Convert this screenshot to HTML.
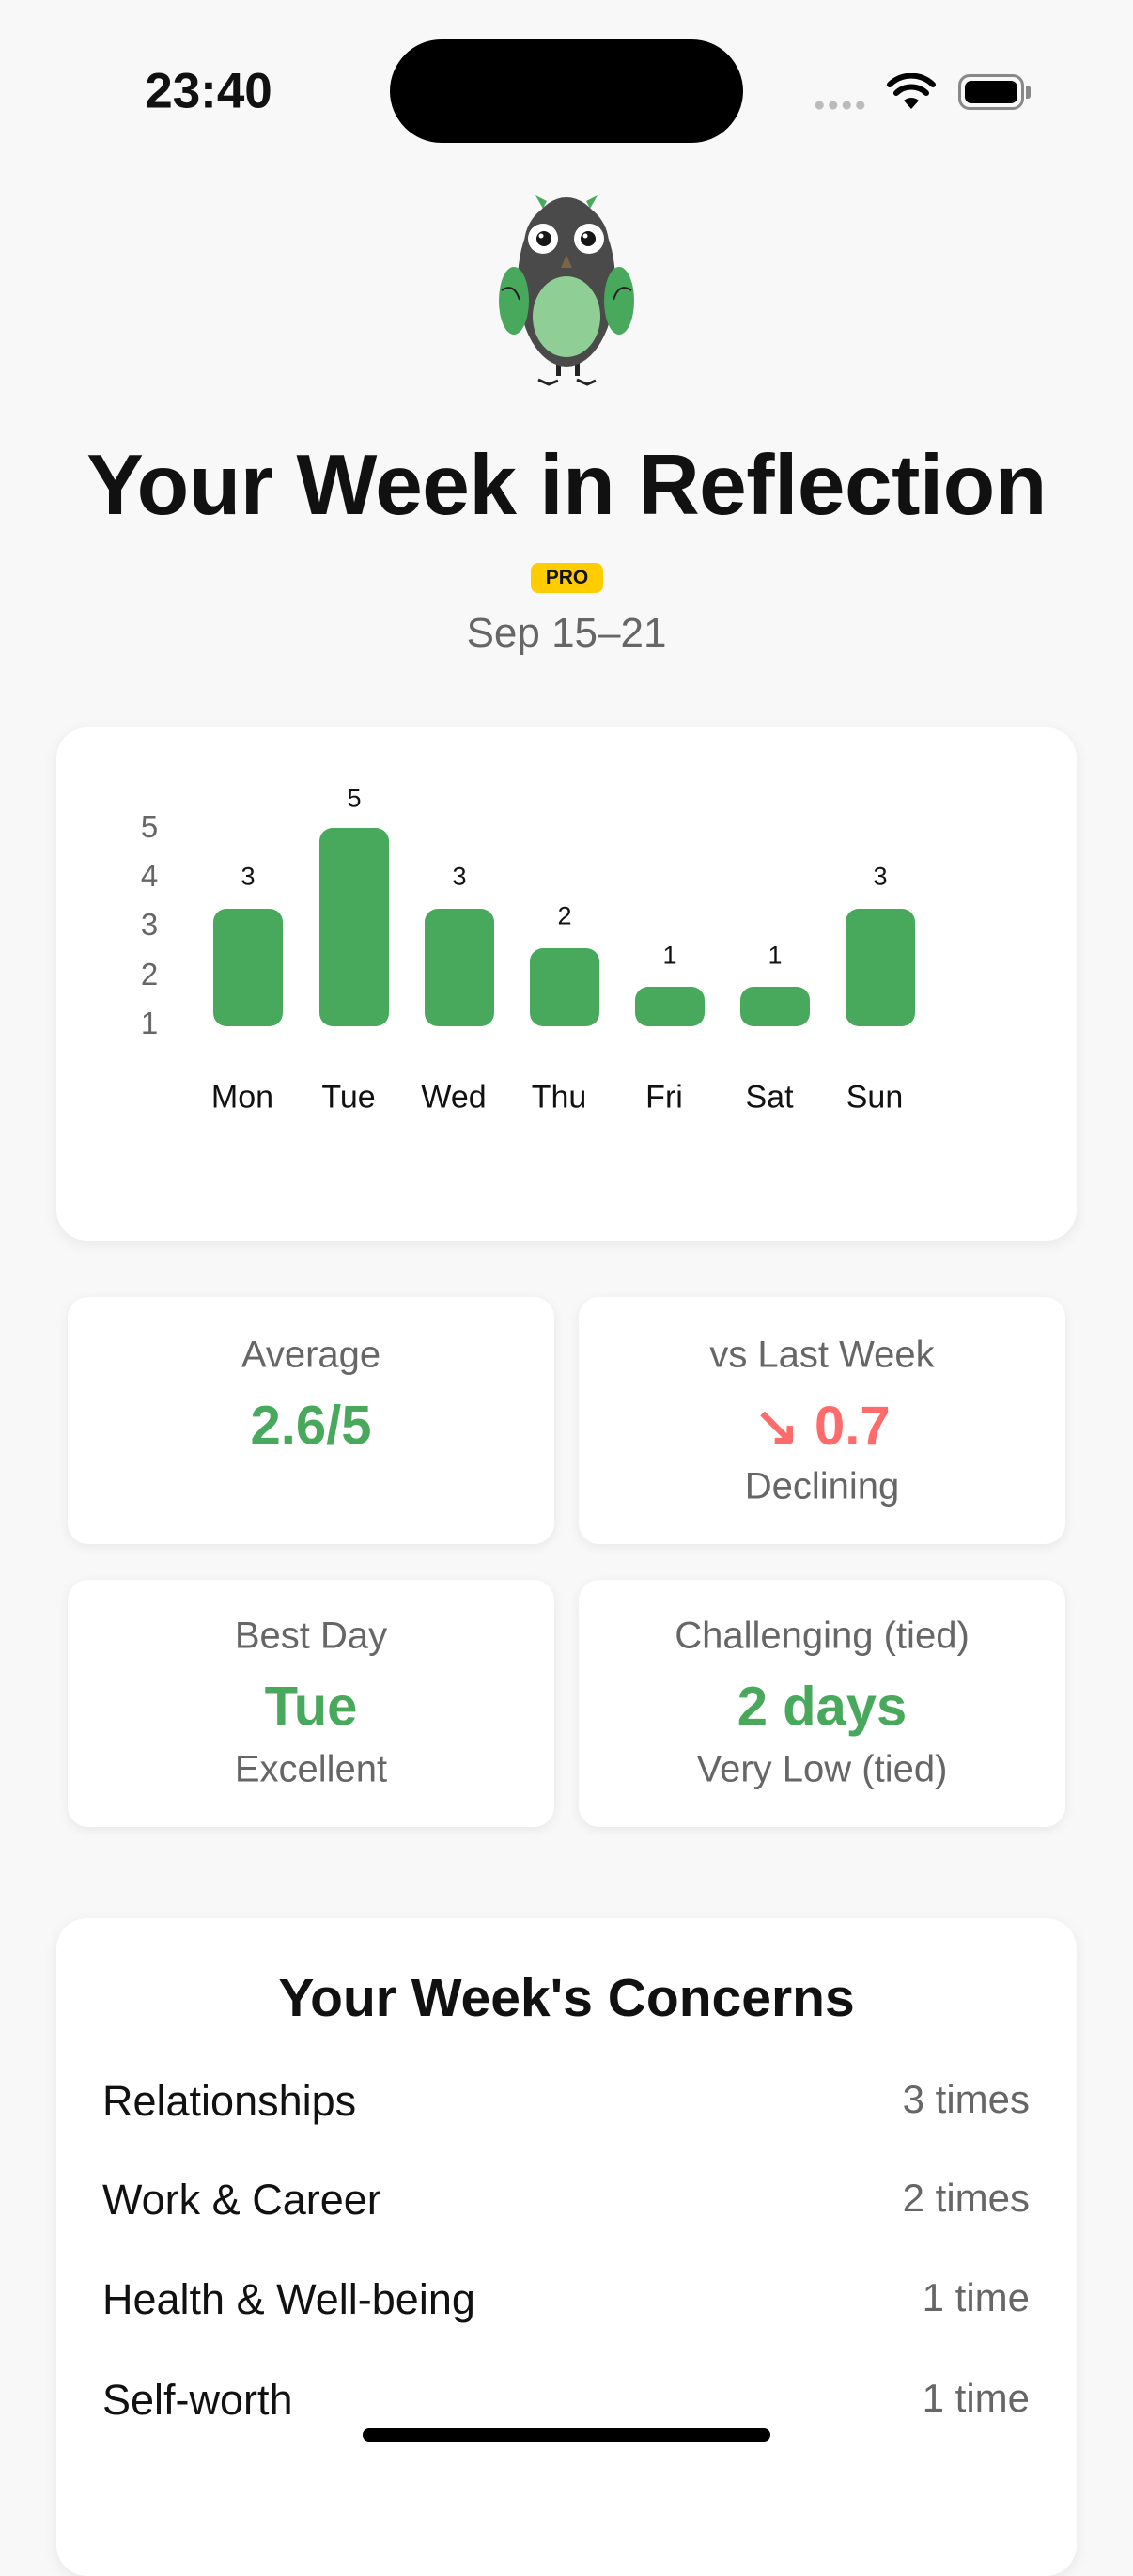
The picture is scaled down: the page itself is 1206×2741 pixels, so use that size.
<!DOCTYPE html>
<html><head><meta charset="utf-8"><style>
*{margin:0;padding:0;box-sizing:border-box}
body{width:1206px;height:2622px;background:#f8f8f8;font-family:"Liberation Sans",sans-serif;position:relative;overflow:hidden;color:#111}
.a{position:absolute}
.c{position:absolute;transform:translate(-50%,-50%);white-space:nowrap}
.card{position:absolute;background:#fff;border-radius:33px;box-shadow:0 4px 16px rgba(0,0,0,0.07)}
.sc{position:absolute;background:#fff;border-radius:22px;box-shadow:0 3px 12px rgba(0,0,0,0.07)}
.bar{position:absolute;background:#48a95c;border-radius:14px;width:74px;bottom:1530px}
.lab{font-size:40px;color:#666}
.big{font-size:58px;font-weight:bold;color:#48a95c}
.row{position:absolute;left:109px;width:987px;font-size:45px;display:flex;justify-content:space-between}
.row span:last-child{color:#666;font-size:42px}
</style></head><body>
<div class="c" style="left:222px;top:97px;font-size:53px;font-weight:bold">23:40</div>
<div class="a" style="left:415px;top:42px;width:376px;height:110px;background:#000;border-radius:55px"></div>
<div class="a" style="left:865px;top:107px;width:58px;height:10px;background:radial-gradient(circle,#bbb 4px,transparent 5px) 0 0/14.5px 10px repeat-x"></div>
<svg class="a" style="left:944px;top:78px" width="52" height="40" viewBox="0 0 52 40"><path d="M26 38 L18 29 A12 12 0 0 1 34 29 Z" fill="#000"/><path d="M10 21 A23 23 0 0 1 42 21" stroke="#000" stroke-width="6" fill="none" stroke-linecap="round"/><path d="M3 12 A33 33 0 0 1 49 12" stroke="#000" stroke-width="6" fill="none" stroke-linecap="round"/></svg>
<div class="a" style="left:1020px;top:79px;width:70px;height:38px;border:3px solid #888;border-radius:12px;padding:4px"><div style="width:100%;height:100%;background:#000;border-radius:7px"></div></div>
<div class="a" style="left:1092px;top:91px;width:5px;height:14px;background:#888;border-radius:0 3px 3px 0"></div>

<svg class="a" style="left:520px;top:200px" width="170" height="220" viewBox="520 200 170 220">
<polygon points="570,208 582,214 578,222" fill="#48a95c"/><polygon points="636,208 624,214 628,222" fill="#48a95c"/>
<rect x="592" y="375" width="5" height="25" fill="#222"/><rect x="612" y="375" width="5" height="25" fill="#222"/>
<path d="M573 404 L584 409 L594 405 M614 404 L625 409 L634 405" stroke="#222" stroke-width="3" fill="none"/>
<ellipse cx="603" cy="300" rx="52" ry="90" fill="#4a4a4a"/>
<ellipse cx="603" cy="260" rx="45" ry="46" fill="#4a4a4a"/>
<ellipse cx="603" cy="337" rx="36" ry="43" fill="#8fcf96"/>
<ellipse cx="547" cy="320" rx="16" ry="36" fill="#48a95c"/><ellipse cx="659" cy="320" rx="16" ry="36" fill="#48a95c"/>
<path d="M534 309 Q547 300 553 319 M672 309 Q659 300 653 319" stroke="#222" stroke-width="2" fill="none"/>
<circle cx="578" cy="254" r="16" fill="#fff"/><circle cx="627" cy="254" r="16" fill="#fff"/>
<circle cx="579" cy="254" r="8" fill="#161616"/><circle cx="626" cy="254" r="8" fill="#161616"/>
<circle cx="576" cy="251" r="2.5" fill="#fff"/><circle cx="623" cy="251" r="2.5" fill="#fff"/>
<polygon points="603,271 597,285 609,285" fill="#7d6446"/>
</svg>

<div class="c" style="left:603px;top:517px;font-size:91px;font-weight:bold;letter-spacing:-0.5px">Your Week in Reflection</div>
<div class="a" style="left:565px;top:599px;width:77px;height:32px;background:#ffcc00;border-radius:8px;font-size:21px;font-weight:bold;text-align:center;line-height:32px">PRO</div>
<div class="c" style="left:603px;top:674px;font-size:44px;color:#666">Sep 15–21</div>

<div class="card" style="left:60px;top:774px;width:1086px;height:546px"></div>
<div class="c" style="left:159px;top:880px;font-size:33px;color:#666">5</div>
<div class="c" style="left:159px;top:932px;font-size:33px;color:#666">4</div>
<div class="c" style="left:159px;top:984px;font-size:33px;color:#666">3</div>
<div class="c" style="left:159px;top:1037px;font-size:33px;color:#666">2</div>
<div class="c" style="left:159px;top:1089px;font-size:33px;color:#666">1</div>
<div class="bar" style="left:227px;top:967px;height:125px"></div>
<div class="bar" style="left:340px;top:881px;height:211px"></div>
<div class="bar" style="left:452px;top:967px;height:125px"></div>
<div class="bar" style="left:564px;top:1009px;height:83px"></div>
<div class="bar" style="left:676px;top:1050px;height:42px"></div>
<div class="bar" style="left:788px;top:1050px;height:42px"></div>
<div class="bar" style="left:900px;top:967px;height:125px"></div>
<div class="c" style="left:264px;top:933px;font-size:27px">3</div>
<div class="c" style="left:377px;top:850px;font-size:27px">5</div>
<div class="c" style="left:489px;top:933px;font-size:27px">3</div>
<div class="c" style="left:601px;top:975px;font-size:27px">2</div>
<div class="c" style="left:713px;top:1017px;font-size:27px">1</div>
<div class="c" style="left:825px;top:1017px;font-size:27px">1</div>
<div class="c" style="left:937px;top:933px;font-size:27px">3</div>
<div class="c" style="left:258px;top:1168px;font-size:34px">Mon</div>
<div class="c" style="left:371px;top:1168px;font-size:34px">Tue</div>
<div class="c" style="left:483px;top:1168px;font-size:34px">Wed</div>
<div class="c" style="left:595px;top:1168px;font-size:34px">Thu</div>
<div class="c" style="left:707px;top:1168px;font-size:34px">Fri</div>
<div class="c" style="left:819px;top:1168px;font-size:34px">Sat</div>
<div class="c" style="left:931px;top:1168px;font-size:34px">Sun</div>

<div class="sc" style="left:72px;top:1380px;width:518px;height:263px"></div>
<div class="sc" style="left:616px;top:1380px;width:518px;height:263px"></div>
<div class="sc" style="left:72px;top:1681px;width:518px;height:263px"></div>
<div class="sc" style="left:616px;top:1681px;width:518px;height:263px"></div>
<div class="c lab" style="left:331px;top:1442px">Average</div>
<div class="c big" style="left:331px;top:1517px">2.6/5</div>
<div class="c lab" style="left:875px;top:1442px">vs Last Week</div>
<div class="c big" style="left:875px;top:1517px;color:#ff6b6b">↘ 0.7</div>
<div class="c lab" style="left:875px;top:1582px">Declining</div>
<div class="c lab" style="left:331px;top:1741px">Best Day</div>
<div class="c big" style="left:331px;top:1816px">Tue</div>
<div class="c lab" style="left:331px;top:1883px">Excellent</div>
<div class="c lab" style="left:875px;top:1741px">Challenging (tied)</div>
<div class="c big" style="left:875px;top:1816px">2 days</div>
<div class="c lab" style="left:875px;top:1883px">Very Low (tied)</div>

<div class="card" style="left:60px;top:2041px;width:1086px;height:700px"></div>
<div class="c" style="left:603px;top:2126px;font-size:57px;font-weight:bold">Your Week's Concerns</div>
<div class="row" style="top:2210px"><span>Relationships</span><span>3 times</span></div>
<div class="row" style="top:2315px"><span>Work &amp; Career</span><span>2 times</span></div>
<div class="row" style="top:2421px"><span>Health &amp; Well-being</span><span>1 time</span></div>
<div class="row" style="top:2528px"><span>Self-worth</span><span>1 time</span></div>
<div class="a" style="left:386px;top:2584px;width:434px;height:14px;background:#000;border-radius:7px"></div>
</body></html>
